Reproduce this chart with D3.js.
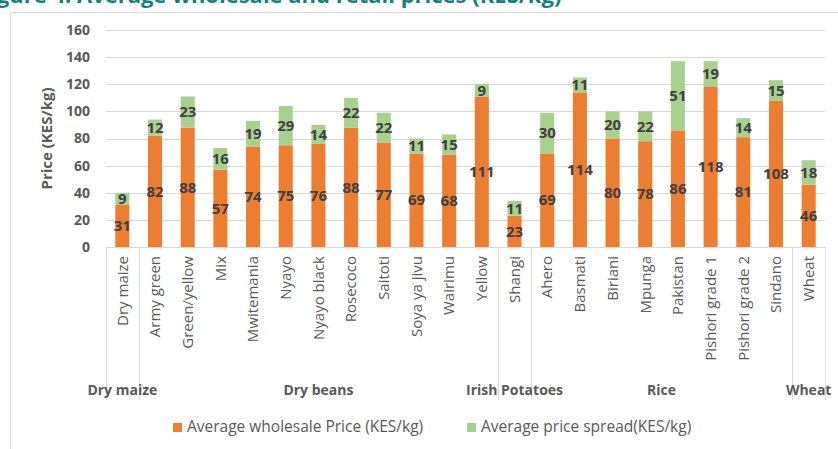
<!DOCTYPE html>
<html>
<head>
<meta charset="utf-8">
<script src="https://cdn.jsdelivr.net/npm/d3@7"></script>
<style>
  body { margin: 0; background: #fff; }
  svg { display: block; font-family: "Open Sans", sans-serif; }
</style>
</head>
<body>
<svg id="chart" width="838" height="449"></svg>
<script>
// data
const categories = ["Dry maize", "Army green", "Green/yellow", "Mix", "Mwitemania", "Nyayo", "Nyayo black",
  "Rosecoco", "Saitoti", "Soya ya jivu", "Wairimu", "Yellow", "Shangi", "Ahero", "Basmati", "Biriani",
  "Mpunga", "Pakistan", "Pishori grade 1", "Pishori grade 2", "Sindano", "Wheat"];
const groups = ["Dry maize", "Dry beans", "Dry beans", "Dry beans", "Dry beans", "Dry beans", "Dry beans",
  "Dry beans", "Dry beans", "Dry beans", "Dry beans", "Dry beans", "Irish Potatoes", "Rice", "Rice", "Rice",
  "Rice", "Rice", "Rice", "Rice", "Rice", "Wheat"];
const wholesale = [31, 82, 88, 57, 74, 75, 76, 88, 77, 69, 68, 111, 23, 69, 114, 80, 78, 86, 118, 81, 108, 46];
const spread = [9, 12, 23, 16, 19, 29, 14, 22, 22, 11, 15, 9, 11, 30, 11, 20, 22, 51, 19, 14, 15, 18];
const yTicks = [0, 20, 40, 60, 80, 100, 120, 140, 160];
const seriesNames = ["Average wholesale Price (KES/kg)", "Average price spread(KES/kg)"];
const colors = ["#ED7D31", "#A9D18E"];

const svg = d3.select("#chart");
const W = 838, H = 449;

// cut-off caption at the top
svg.append("text")
    .attr("x", -22).attr("y", 3)
    .attr("fill", "#12807c")
    .style("font", "bold 22px 'Open Sans'")
    .text("Figure 4: Average wholesale and retail prices (KES/kg)");

// chart frame
svg.append("path")
    .attr("d", `M10.5,${H}V12.5H${W}`)
    .attr("fill", "none")
    .attr("stroke", "#d9d9d9");

const x = d3.scaleBand()
    .domain(categories)
    .range([106, 825])
    .paddingInner(0.57)
    .paddingOuter(0.285);

const y = d3.scaleLinear()
    .domain([0, 160])
    .range([247, 30]);

// grid
svg.append("g")
    .attr("stroke", "#d9d9d9")
  .selectAll("line")
  .data(yTicks)
  .join("line")
    .attr("x1", 106).attr("x2", 825)
    .attr("y1", d => Math.round(y(d)) + 0.5)
    .attr("y2", d => Math.round(y(d)) + 0.5);

// y axis labels
const yAxis = svg.append("g")
    .attr("transform", "translate(106,0)")
    .call(d3.axisLeft(y).tickValues(yTicks).tickSize(0).tickPadding(16));
yAxis.select(".domain").remove();
yAxis.selectAll("text")
    .attr("fill", "#595959")
    .style("font", "bold 14px 'Open Sans'");

svg.append("text")
    .attr("transform", `translate(52,${(y(0) + y(160)) / 2}) rotate(-90)`)
    .attr("text-anchor", "middle")
    .attr("fill", "#595959")
    .style("font", "bold 15px 'Open Sans'")
    .text("Price (KES/kg)");

// stacked bars
const rows = categories.map((c, i) => ({cat: c, w: wholesale[i], s: spread[i]}));

const bars = svg.append("g").selectAll("g")
  .data(rows)
  .join("g");

bars.append("rect")
    .attr("x", d => x(d.cat))
    .attr("width", x.bandwidth())
    .attr("y", d => y(d.w))
    .attr("height", d => y(0) - y(d.w))
    .attr("fill", colors[0]);

bars.append("rect")
    .attr("x", d => x(d.cat))
    .attr("width", x.bandwidth())
    .attr("y", d => y(d.w + d.s))
    .attr("height", d => y(d.w) - y(d.w + d.s))
    .attr("fill", colors[1]);

// data labels
const lab = svg.append("g")
    .attr("text-anchor", "middle")
    .attr("fill", "#404040")
    .style("font", "bold 15px 'Open Sans'");

lab.selectAll(".lw")
  .data(rows)
  .join("text")
    .attr("x", d => x(d.cat) + x.bandwidth() / 2)
    .attr("y", d => y(d.w / 2))
    .attr("dy", "0.35em")
    .text(d => d.w);

lab.selectAll(".ls")
  .data(rows)
  .join("text")
    .attr("x", d => x(d.cat) + x.bandwidth() / 2)
    .attr("y", d => y(d.w + d.s / 2))
    .attr("dy", "0.35em")
    .text(d => d.s);

// category labels (rotated)
svg.append("g")
    .attr("fill", "#595959")
    .style("font", "15px 'Open Sans'")
  .selectAll("text")
  .data(categories)
  .join("text")
    .attr("transform", d => `translate(${x(d) + x.bandwidth() / 2},256) rotate(-90)`)
    .attr("text-anchor", "end")
    .attr("dy", "0.35em")
    .text(d => d);

// group boundaries and labels
const groupList = [];
groups.forEach((g, i) => {
  const last = groupList[groupList.length - 1];
  if (last && last.name === g) last.end = i;
  else groupList.push({name: g, start: i, end: i});
});

const step = x.step();
const edges = [106].concat(groupList.map(g => 106 + (g.end + 1) * step));
svg.append("g")
    .attr("stroke", "#d9d9d9")
  .selectAll("line")
  .data(edges)
  .join("line")
    .attr("x1", d => Math.round(d) + 0.5).attr("x2", d => Math.round(d) + 0.5)
    .attr("y1", 247).attr("y2", 400);

svg.append("g")
    .attr("text-anchor", "middle")
    .attr("fill", "#595959")
    .style("font", "bold 14px 'Open Sans'")
  .selectAll("text")
  .data(groupList)
  .join("text")
    .attr("x", g => (x(categories[g.start]) + x(categories[g.end]) + x.bandwidth()) / 2)
    .attr("y", 390)
    .attr("dy", "0.35em")
    .text(g => g.name);

// legend
const legX = [173, 467];
const leg = svg.append("g").selectAll("g")
  .data(seriesNames)
  .join("g")
    .attr("transform", (d, i) => `translate(${legX[i]},427)`);
leg.append("rect")
    .attr("x", 0).attr("y", -4)
    .attr("width", 9).attr("height", 9)
    .attr("fill", (d, i) => colors[i]);
leg.append("text")
    .attr("x", 14)
    .attr("dy", "0.35em")
    .attr("fill", "#595959")
    .style("font", "15.5px 'Open Sans'")
    .text(d => d);
</script>
</body>
</html>
